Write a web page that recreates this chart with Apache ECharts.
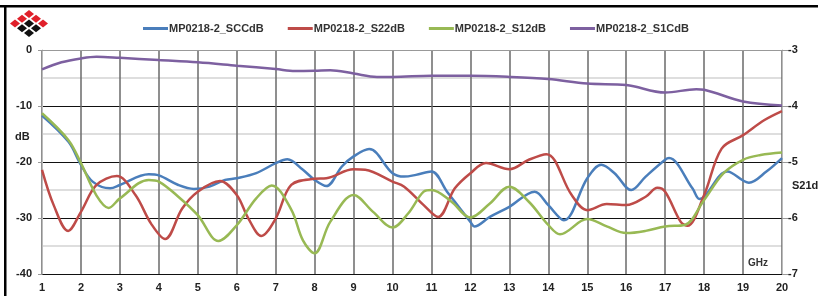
<!DOCTYPE html>
<html>
<head>
<meta charset="utf-8">
<script src="https://cdn.jsdelivr.net/npm/echarts@6/dist/echarts.min.js"></script>
<style>
  html, body { margin: 0; padding: 0; background: #fff; }
  #main { width: 818px; height: 296px; }
</style>
</head>
<body>
<div id="main"></div>
<script>
// series names
var names = ["MP0218-2_SCCdB", "MP0218-2_S22dB", "MP0218-2_S12dB", "MP0218-2_S1CdB"];
var colors = ["#4a7ebb", "#be4b48", "#98b954", "#7d60a0"];

// [GHz, dB]
var sccData = [
  [1.0, -11.7], [1.68, -16.4], [2.0, -20.5], [2.3, -23.5], [2.75, -24.7], [3.0, -24.1],
  [3.74, -22.2], [4.0, -22.4], [4.5, -24.1], [4.9, -24.8], [5.3, -24.4], [5.7, -23.2],
  [6.0, -22.9], [6.5, -22.0], [7.0, -20.2], [7.3, -19.5], [7.7, -21.4], [8.0, -23.2],
  [8.3, -24.3], [8.7, -20.8], [9.0, -19.0], [9.4, -17.7], [10.0, -22.0], [10.3, -22.6],
  [10.6, -22.3], [11.0, -21.7], [11.4, -25.3], [12.0, -30.7], [12.1, -31.5], [12.5, -29.8],
  [13.0, -28.0], [13.65, -25.3], [14.0, -27.7], [14.4, -30.4], [15.0, -22.9], [15.36, -20.5],
  [15.7, -22.0], [16.13, -25.0], [16.5, -22.6], [17.0, -19.6], [17.1, -19.3], [17.7, -24.7],
  [17.88, -26.6], [18.0, -26.2], [18.6, -21.7], [19.15, -23.7], [19.6, -21.7], [20.0, -19.3]
];
var s22Data = [
  [1.0, -21.4], [1.3, -27.7], [1.67, -32.3], [2.0, -28.9], [2.4, -24.1], [2.92, -22.5],
  [3.4, -25.9], [3.8, -31.0], [4.16, -33.75], [4.6, -28.3], [5.0, -25.3], [5.57, -23.4],
  [6.0, -25.9], [6.3, -30.1], [6.63, -33.2], [7.0, -30.1], [7.4, -24.1], [8.0, -23.0],
  [8.3, -22.9], [9.0, -21.3], [9.3, -21.4], [10.0, -23.5], [10.3, -24.4], [10.8, -27.7],
  [11.17, -29.8], [11.6, -24.7], [12.0, -22.0], [12.4, -20.2], [13.0, -21.3], [13.5, -19.6],
  [13.95, -18.6], [14.6, -25.9], [15.0, -28.6], [15.5, -27.5], [16.0, -27.7], [16.5, -26.2],
  [16.8, -24.6], [17.0, -25.3], [17.4, -30.7], [17.57, -31.4], [18.0, -25.9], [18.45, -17.6],
  [19.0, -15.2], [19.55, -12.5], [20.0, -10.9]
];
var s12Data = [
  [1.0, -11.3], [1.68, -16.1], [2.0, -20.2], [2.4, -26.0], [2.71, -28.2], [3.0, -26.5],
  [3.74, -23.2], [4.0, -23.5], [4.5, -26.2], [5.0, -29.5], [5.53, -34.1], [6.0, -31.3],
  [6.5, -26.5], [6.9, -24.2], [7.4, -28.5], [7.7, -34.0], [8.0, -36.3], [8.4, -30.7],
  [9.0, -25.9], [9.5, -28.9], [10.0, -31.7], [10.4, -29.2], [10.8, -25.3], [11.0, -25.0],
  [11.5, -27.0], [12.0, -29.9], [12.5, -27.4], [13.0, -24.4], [13.5, -27.1], [14.0, -31.25],
  [14.3, -32.9], [15.0, -30.2], [15.5, -31.5], [16.0, -32.7], [16.5, -32.3], [17.0, -31.5],
  [17.5, -31.25], [18.0, -26.8], [18.5, -22.0], [19.0, -19.6], [19.45, -18.75], [20.0, -18.3]
];
// right axis
var s1cData = [
  [1, -3.345], [1.5, -3.22], [2, -3.15], [2.4, -3.12], [3, -3.14], [4, -3.18], [5, -3.22],
  [6, -3.28], [7, -3.34], [7.5, -3.375], [8, -3.37], [8.4, -3.36], [9, -3.42], [9.6, -3.48],
  [10, -3.48], [11, -3.46], [12, -3.46], [13, -3.48], [14, -3.52], [15, -3.60], [16, -3.625],
  [17, -3.76], [17.8, -3.70], [18, -3.71], [19, -3.92], [20, -3.99]
];

var font = "Liberation Sans";

// little diamond logo
var logo = [];
var logoRed = "#e0202a";
for (var i = 0; i < 3; i++) {
  for (var j = 0; j < 3; j++) {
    var cx = 29 + 7 * (i - j);
    var cy = 14 + 4.75 * (i + j);
    var red = (i + j) < 2 || ((i + j) == 2 && i != j);
    logo.push({
      type: "polygon",
      shape: { points: [[cx, cy - 4], [cx + 5, cy], [cx, cy + 4], [cx - 5, cy]] },
      style: { fill: red ? logoRed : "#111" }
    });
  }
}

var myChart = echarts.init(document.getElementById("main"));
myChart.setOption({
  backgroundColor: "#fff",
  animation: false,
  textStyle: { fontFamily: font },
  legend: {
    left: 138,
    top: 18,
    icon: "rect",
    itemWidth: 25,
    itemHeight: 3,
    itemGap: 24,
    textStyle: { fontFamily: font, fontSize: 11, fontWeight: "bold", color: "#333", padding: [0, 0, 0, -4] },
    data: names
  },
  grid: { left: 42, right: 36, top: 50, bottom: 22 },
  xAxis: {
    type: "value",
    min: 1,
    max: 20,
    interval: 1,
    axisLine: { lineStyle: { color: "#999" } },
    axisTick: { show: false },
    axisLabel: { margin: 8, fontSize: 11, fontWeight: "bold", color: "#222", fontFamily: font },
    splitLine: { show: true, lineStyle: { color: "#6a6a6a", width: 1.5 } }
  },
  yAxis: [
    {
      type: "value",
      min: -40,
      max: 0,
      interval: 10,
      axisLine: { show: true, lineStyle: { color: "#bbb" } },
      axisTick: { show: true, length: 4, lineStyle: { color: "#999" } },
      axisLabel: { margin: 10, fontSize: 11, fontWeight: "bold", color: "#222", fontFamily: font },
      splitLine: { lineStyle: { color: "#111", width: 1 } },
      minorTick: { show: false, splitNumber: 2 },
      minorSplitLine: { show: true, lineStyle: { color: "#d4d4d4", width: 1.5 } }
    },
    {
      type: "value",
      min: -7,
      max: -3,
      interval: 1,
      axisLine: { show: true, lineStyle: { color: "#bbb" } },
      axisTick: { show: true, length: 7, lineStyle: { color: "#999" } },
      axisLabel: { margin: 6, fontSize: 11, fontWeight: "bold", color: "#222", fontFamily: font },
      splitLine: { show: false }
    }
  ],
  graphic: [
    { type: "rect", shape: { x: 0, y: 5, width: 818, height: 2.5 }, style: { fill: "#000" } },
    { type: "rect", shape: { x: 4, y: 5, width: 2.5, height: 291 }, style: { fill: "#000" } },
    { type: "group", children: logo },
    { type: "text", left: 15, top: 131, style: { text: "dB", font: "bold 11px " + font, fill: "#222" } },
    { type: "text", left: 792, top: 180, style: { text: "S21dB", font: "bold 11px " + font, fill: "#222" } },
    { type: "text", left: 748, top: 258, style: { text: "GHz", font: "bold 10px " + font, fill: "#333" } }
  ],
  series: [
    { name: names[0], type: "line", smooth: 0.35, symbol: "none", data: sccData,
      lineStyle: { width: 2.5, color: colors[0] }, itemStyle: { color: colors[0] } },
    { name: names[1], type: "line", smooth: 0.35, symbol: "none", data: s22Data,
      lineStyle: { width: 2.5, color: colors[1] }, itemStyle: { color: colors[1] } },
    { name: names[2], type: "line", smooth: 0.35, symbol: "none", data: s12Data,
      lineStyle: { width: 2.5, color: colors[2] }, itemStyle: { color: colors[2] } },
    { name: names[3], type: "line", smooth: 0.35, symbol: "none", yAxisIndex: 1, data: s1cData,
      lineStyle: { width: 2.5, color: colors[3] }, itemStyle: { color: colors[3] } }
  ]
});
</script>
</body>
</html>
